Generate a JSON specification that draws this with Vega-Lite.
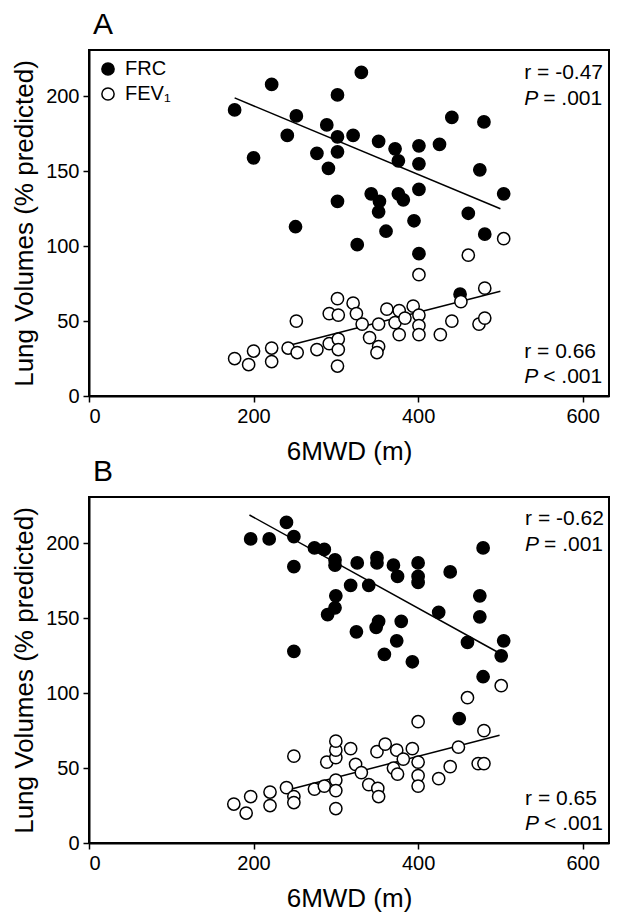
{
  "$schema": "https://vega.github.io/schema/vega-lite/v6.json",
  "background": "white",
  "padding": {"left": 10, "top": 9, "right": 2, "bottom": 2},
  "bounds": "flush",
  "spacing": 101,
  "config": {
    "font": "Liberation Sans",
    "view": {"stroke": "black", "strokeWidth": 2},
    "axis": {"domainColor": "black", "domainWidth": 2, "tickColor": "black", "tickWidth": 1.5, "tickSize": 6, "labelFontSize": 20, "labelColor": "black", "labelPadding": 4, "titleFontSize": 26, "titleFontWeight": "normal", "titleColor": "black", "grid": false},
    "legend": {"orient": "top-left", "offset": 9, "padding": 0, "symbolType": "circle", "symbolSize": 150, "symbolStrokeWidth": 1.5, "symbolStrokeColor": "black", "symbolOpacity": 1, "labelFontSize": 20, "labelColor": "black", "labelOffset": 7, "rowPadding": 5, "title": null},
    "title": {"fontSize": 30, "fontWeight": "normal", "anchor": "start", "frame": "group", "color": "black", "baseline": "alphabetic", "offset": 10, "dx": 4}
  },
  "datasets": {
    "pointsA": [
      {"series": "FRC", "x": 177, "y": 191}, {"series": "FRC", "x": 200, "y": 159}, {"series": "FRC", "x": 222, "y": 208}, {"series": "FRC", "x": 241, "y": 174}, {"series": "FRC", "x": 252, "y": 187}, {"series": "FRC", "x": 251, "y": 113}, {"series": "FRC", "x": 277, "y": 162}, {"series": "FRC", "x": 289, "y": 181}, {"series": "FRC", "x": 291, "y": 152}, {"series": "FRC", "x": 302, "y": 201}, {"series": "FRC", "x": 302, "y": 173}, {"series": "FRC", "x": 302, "y": 163}, {"series": "FRC", "x": 302, "y": 130}, {"series": "FRC", "x": 321, "y": 174}, {"series": "FRC", "x": 326, "y": 101}, {"series": "FRC", "x": 331, "y": 216}, {"series": "FRC", "x": 343, "y": 135}, {"series": "FRC", "x": 352, "y": 170}, {"series": "FRC", "x": 353, "y": 130}, {"series": "FRC", "x": 352, "y": 123}, {"series": "FRC", "x": 361, "y": 110}, {"series": "FRC", "x": 372, "y": 165}, {"series": "FRC", "x": 376, "y": 157}, {"series": "FRC", "x": 376, "y": 135}, {"series": "FRC", "x": 382, "y": 131}, {"series": "FRC", "x": 395, "y": 117}, {"series": "FRC", "x": 401, "y": 167}, {"series": "FRC", "x": 401, "y": 155}, {"series": "FRC", "x": 401, "y": 138}, {"series": "FRC", "x": 401, "y": 95}, {"series": "FRC", "x": 426, "y": 168}, {"series": "FRC", "x": 441, "y": 186}, {"series": "FRC", "x": 461, "y": 122}, {"series": "FRC", "x": 475, "y": 151}, {"series": "FRC", "x": 480, "y": 183}, {"series": "FRC", "x": 481, "y": 108}, {"series": "FRC", "x": 451, "y": 68}, {"series": "FRC", "x": 504, "y": 135},
      {"series": "FEV₁", "x": 177, "y": 25}, {"series": "FEV₁", "x": 194, "y": 21}, {"series": "FEV₁", "x": 200, "y": 30}, {"series": "FEV₁", "x": 222, "y": 32}, {"series": "FEV₁", "x": 222, "y": 23}, {"series": "FEV₁", "x": 242, "y": 32}, {"series": "FEV₁", "x": 253, "y": 29}, {"series": "FEV₁", "x": 252, "y": 50}, {"series": "FEV₁", "x": 277, "y": 31}, {"series": "FEV₁", "x": 292, "y": 35}, {"series": "FEV₁", "x": 292, "y": 55}, {"series": "FEV₁", "x": 303, "y": 38}, {"series": "FEV₁", "x": 303, "y": 31}, {"series": "FEV₁", "x": 302, "y": 20}, {"series": "FEV₁", "x": 303, "y": 54}, {"series": "FEV₁", "x": 302, "y": 65}, {"series": "FEV₁", "x": 321, "y": 62}, {"series": "FEV₁", "x": 325, "y": 55}, {"series": "FEV₁", "x": 332, "y": 48}, {"series": "FEV₁", "x": 341, "y": 39}, {"series": "FEV₁", "x": 352, "y": 48}, {"series": "FEV₁", "x": 352, "y": 33}, {"series": "FEV₁", "x": 350, "y": 29}, {"series": "FEV₁", "x": 362, "y": 58}, {"series": "FEV₁", "x": 372, "y": 49}, {"series": "FEV₁", "x": 377, "y": 57}, {"series": "FEV₁", "x": 377, "y": 41}, {"series": "FEV₁", "x": 384, "y": 52}, {"series": "FEV₁", "x": 394, "y": 60}, {"series": "FEV₁", "x": 401, "y": 54}, {"series": "FEV₁", "x": 401, "y": 47}, {"series": "FEV₁", "x": 401, "y": 41}, {"series": "FEV₁", "x": 401, "y": 81}, {"series": "FEV₁", "x": 427, "y": 41}, {"series": "FEV₁", "x": 441, "y": 50}, {"series": "FEV₁", "x": 452, "y": 63}, {"series": "FEV₁", "x": 461, "y": 94}, {"series": "FEV₁", "x": 474, "y": 48}, {"series": "FEV₁", "x": 481, "y": 52}, {"series": "FEV₁", "x": 481, "y": 72}, {"series": "FEV₁", "x": 504, "y": 105}
    ],
    "fitA": [
      {"series": "FRC", "x": 177, "y": 199}, {"series": "FRC", "x": 500, "y": 125},
      {"series": "FEV₁", "x": 245, "y": 34}, {"series": "FEV₁", "x": 500, "y": 70}
    ],
    "pointsB": [
      {"series": "FRC", "x": 196.5, "y": 203}, {"series": "FRC", "x": 219, "y": 203}, {"series": "FRC", "x": 240, "y": 214}, {"series": "FRC", "x": 249, "y": 204.5}, {"series": "FRC", "x": 249, "y": 184.5}, {"series": "FRC", "x": 249, "y": 128}, {"series": "FRC", "x": 274, "y": 197}, {"series": "FRC", "x": 286, "y": 196}, {"series": "FRC", "x": 299, "y": 189}, {"series": "FRC", "x": 299, "y": 185.5}, {"series": "FRC", "x": 300, "y": 165}, {"series": "FRC", "x": 299, "y": 157}, {"series": "FRC", "x": 290, "y": 152.5}, {"series": "FRC", "x": 318, "y": 172}, {"series": "FRC", "x": 326, "y": 187}, {"series": "FRC", "x": 325, "y": 141}, {"series": "FRC", "x": 340, "y": 172}, {"series": "FRC", "x": 350, "y": 190.5}, {"series": "FRC", "x": 350, "y": 187}, {"series": "FRC", "x": 370, "y": 185.5}, {"series": "FRC", "x": 375, "y": 178}, {"series": "FRC", "x": 400, "y": 187}, {"series": "FRC", "x": 400, "y": 178}, {"series": "FRC", "x": 400, "y": 174}, {"series": "FRC", "x": 439, "y": 181}, {"series": "FRC", "x": 479, "y": 197}, {"series": "FRC", "x": 475, "y": 165}, {"series": "FRC", "x": 475, "y": 151}, {"series": "FRC", "x": 425, "y": 154}, {"series": "FRC", "x": 352, "y": 148}, {"series": "FRC", "x": 349, "y": 144}, {"series": "FRC", "x": 379.5, "y": 148}, {"series": "FRC", "x": 374, "y": 135}, {"series": "FRC", "x": 359, "y": 126}, {"series": "FRC", "x": 393, "y": 121}, {"series": "FRC", "x": 460, "y": 134}, {"series": "FRC", "x": 504, "y": 135}, {"series": "FRC", "x": 501, "y": 125}, {"series": "FRC", "x": 479, "y": 111}, {"series": "FRC", "x": 450, "y": 83},
      {"series": "FEV₁", "x": 176, "y": 26}, {"series": "FEV₁", "x": 191, "y": 20}, {"series": "FEV₁", "x": 196.5, "y": 31}, {"series": "FEV₁", "x": 220, "y": 34}, {"series": "FEV₁", "x": 220, "y": 25}, {"series": "FEV₁", "x": 240, "y": 37}, {"series": "FEV₁", "x": 249, "y": 31}, {"series": "FEV₁", "x": 249, "y": 27}, {"series": "FEV₁", "x": 249, "y": 58}, {"series": "FEV₁", "x": 274, "y": 36}, {"series": "FEV₁", "x": 286, "y": 38}, {"series": "FEV₁", "x": 300, "y": 42}, {"series": "FEV₁", "x": 300, "y": 35}, {"series": "FEV₁", "x": 300, "y": 23}, {"series": "FEV₁", "x": 289, "y": 54}, {"series": "FEV₁", "x": 300, "y": 57}, {"series": "FEV₁", "x": 300, "y": 62}, {"series": "FEV₁", "x": 300, "y": 68}, {"series": "FEV₁", "x": 318, "y": 63}, {"series": "FEV₁", "x": 324, "y": 52.5}, {"series": "FEV₁", "x": 331, "y": 47}, {"series": "FEV₁", "x": 340, "y": 39}, {"series": "FEV₁", "x": 351, "y": 36.5}, {"series": "FEV₁", "x": 352, "y": 31}, {"series": "FEV₁", "x": 350, "y": 61}, {"series": "FEV₁", "x": 360, "y": 66}, {"series": "FEV₁", "x": 374, "y": 62}, {"series": "FEV₁", "x": 382, "y": 56}, {"series": "FEV₁", "x": 370, "y": 50}, {"series": "FEV₁", "x": 375, "y": 46}, {"series": "FEV₁", "x": 393, "y": 63}, {"series": "FEV₁", "x": 400, "y": 54}, {"series": "FEV₁", "x": 400, "y": 45}, {"series": "FEV₁", "x": 400, "y": 38}, {"series": "FEV₁", "x": 400, "y": 81}, {"series": "FEV₁", "x": 425, "y": 43}, {"series": "FEV₁", "x": 439, "y": 51}, {"series": "FEV₁", "x": 449, "y": 64}, {"series": "FEV₁", "x": 473, "y": 53}, {"series": "FEV₁", "x": 480, "y": 53}, {"series": "FEV₁", "x": 480, "y": 75}, {"series": "FEV₁", "x": 460, "y": 97}, {"series": "FEV₁", "x": 501, "y": 105}
    ],
    "fitB": [
      {"series": "FRC", "x": 195, "y": 219}, {"series": "FRC", "x": 498, "y": 127},
      {"series": "FEV₁", "x": 246, "y": 36}, {"series": "FEV₁", "x": 499, "y": 72}
    ]
  },
  "vconcat": [
    {
      "width": 520,
      "height": 346,
      "title": {"text": "A"},
      "layer": [
        {"data": {"name": "fitA"}, "mark": {"type": "line", "color": "black", "strokeWidth": 1.5},
          "encoding": {
            "x": {"field": "x", "type": "quantitative", "scale": {"domain": [0, 632], "nice": false}, "axis": {"values": [0, 200, 400, 600], "title": "6MWD (m)", "titlePadding": 12}},
            "y": {"field": "y", "type": "quantitative", "scale": {"domain": [0, 231], "nice": false}, "axis": {"values": [0, 50, 100, 150, 200], "title": "Lung Volumes (% predicted)", "titlePadding": 8}},
            "detail": {"field": "series"}}},
        {"data": {"name": "pointsA"}, "mark": {"type": "point", "shape": "circle", "filled": true, "stroke": "black", "strokeWidth": 1.5, "size": 150, "opacity": 1},
          "encoding": {
            "x": {"field": "x", "type": "quantitative", "title": "6MWD (m)"},
            "y": {"field": "y", "type": "quantitative", "title": "Lung Volumes (% predicted)"},
            "fill": {"field": "series", "type": "nominal", "sort": null, "scale": {"domain": ["FRC", "FEV₁"], "range": ["black", "white"]}}}},
        {"data": {"values": [{"k": 1}]}, "mark": {"type": "text", "align": "left", "baseline": "alphabetic", "fontSize": 21, "color": "black"}, "encoding": {"x": {"datum": 529, "type": "quantitative"}, "y": {"datum": 211.5, "type": "quantitative"}, "text": {"value": "r = -0.47"}}},
        {"data": {"values": [{"k": 1}]}, "mark": {"type": "text", "align": "left", "baseline": "alphabetic", "fontSize": 21, "color": "black", "fontStyle": "italic"}, "encoding": {"x": {"datum": 529, "type": "quantitative"}, "y": {"datum": 194.5, "type": "quantitative"}, "text": {"value": "P"}}},
        {"data": {"values": [{"k": 1}]}, "mark": {"type": "text", "align": "left", "baseline": "alphabetic", "fontSize": 21, "color": "black", "dx": 19}, "encoding": {"x": {"datum": 529, "type": "quantitative"}, "y": {"datum": 194.5, "type": "quantitative"}, "text": {"value": "= .001"}}},
        {"data": {"values": [{"k": 1}]}, "mark": {"type": "text", "align": "left", "baseline": "alphabetic", "fontSize": 21, "color": "black"}, "encoding": {"x": {"datum": 529, "type": "quantitative"}, "y": {"datum": 25.7, "type": "quantitative"}, "text": {"value": "r = 0.66"}}},
        {"data": {"values": [{"k": 1}]}, "mark": {"type": "text", "align": "left", "baseline": "alphabetic", "fontSize": 21, "color": "black", "fontStyle": "italic"}, "encoding": {"x": {"datum": 529, "type": "quantitative"}, "y": {"datum": 9, "type": "quantitative"}, "text": {"value": "P"}}},
        {"data": {"values": [{"k": 1}]}, "mark": {"type": "text", "align": "left", "baseline": "alphabetic", "fontSize": 21, "color": "black", "dx": 19}, "encoding": {"x": {"datum": 529, "type": "quantitative"}, "y": {"datum": 9, "type": "quantitative"}, "text": {"value": "< .001"}}}
      ]
    },
    {
      "width": 520,
      "height": 346,
      "title": {"text": "B"},
      "layer": [
        {"data": {"name": "fitB"}, "mark": {"type": "line", "color": "black", "strokeWidth": 1.5},
          "encoding": {
            "x": {"field": "x", "type": "quantitative", "scale": {"domain": [0, 632], "nice": false}, "axis": {"values": [0, 200, 400, 600], "title": "6MWD (m)", "titlePadding": 12}},
            "y": {"field": "y", "type": "quantitative", "scale": {"domain": [0, 231], "nice": false}, "axis": {"values": [0, 50, 100, 150, 200], "title": "Lung Volumes (% predicted)", "titlePadding": 8}},
            "detail": {"field": "series"}}},
        {"data": {"name": "pointsB"}, "mark": {"type": "point", "shape": "circle", "filled": true, "stroke": "black", "strokeWidth": 1.5, "size": 150, "opacity": 1},
          "encoding": {
            "x": {"field": "x", "type": "quantitative", "title": "6MWD (m)"},
            "y": {"field": "y", "type": "quantitative", "title": "Lung Volumes (% predicted)"},
            "fill": {"field": "series", "type": "nominal", "sort": null, "scale": {"domain": ["FRC", "FEV₁"], "range": ["black", "white"]}}}},
        {"data": {"values": [{"k": 1}]}, "mark": {"type": "text", "align": "left", "baseline": "alphabetic", "fontSize": 21, "color": "black"}, "encoding": {"x": {"datum": 530, "type": "quantitative"}, "y": {"datum": 212.5, "type": "quantitative"}, "text": {"value": "r = -0.62"}}},
        {"data": {"values": [{"k": 1}]}, "mark": {"type": "text", "align": "left", "baseline": "alphabetic", "fontSize": 21, "color": "black", "fontStyle": "italic"}, "encoding": {"x": {"datum": 530, "type": "quantitative"}, "y": {"datum": 195, "type": "quantitative"}, "text": {"value": "P"}}},
        {"data": {"values": [{"k": 1}]}, "mark": {"type": "text", "align": "left", "baseline": "alphabetic", "fontSize": 21, "color": "black", "dx": 19}, "encoding": {"x": {"datum": 530, "type": "quantitative"}, "y": {"datum": 195, "type": "quantitative"}, "text": {"value": "= .001"}}},
        {"data": {"values": [{"k": 1}]}, "mark": {"type": "text", "align": "left", "baseline": "alphabetic", "fontSize": 21, "color": "black"}, "encoding": {"x": {"datum": 530, "type": "quantitative"}, "y": {"datum": 25.3, "type": "quantitative"}, "text": {"value": "r = 0.65"}}},
        {"data": {"values": [{"k": 1}]}, "mark": {"type": "text", "align": "left", "baseline": "alphabetic", "fontSize": 21, "color": "black", "fontStyle": "italic"}, "encoding": {"x": {"datum": 530, "type": "quantitative"}, "y": {"datum": 8.6, "type": "quantitative"}, "text": {"value": "P"}}},
        {"data": {"values": [{"k": 1}]}, "mark": {"type": "text", "align": "left", "baseline": "alphabetic", "fontSize": 21, "color": "black", "dx": 19}, "encoding": {"x": {"datum": 530, "type": "quantitative"}, "y": {"datum": 8.6, "type": "quantitative"}, "text": {"value": "< .001"}}}
      ]
    }
  ]
}
